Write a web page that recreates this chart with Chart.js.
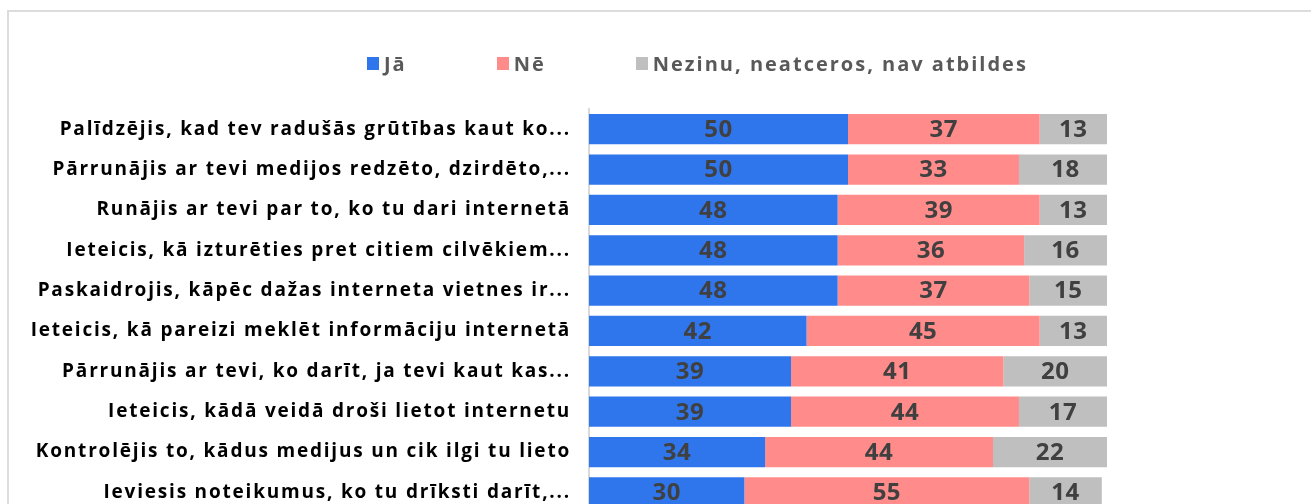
<!DOCTYPE html>
<html>
<head>
<meta charset="utf-8">
<script src="https://cdn.jsdelivr.net/npm/chart.js@4.4.1/dist/chart.umd.min.js"></script>
<style>
  html, body { margin: 0; padding: 0; overflow: hidden; background: #fff; }
  .frame {
    position: absolute; left: 7px; top: 10px; width: 1400px; height: 600px;
    border: 2px solid #dcdcdc; box-sizing: border-box;
  }
  .my-chart { position: absolute; left: 0; top: 0; }
  .legend {
    position: absolute; left: 367px; top: 50px; display: flex; gap: 90px;
    font: bold 20px "Open Sans", sans-serif; letter-spacing: 2px; color: #595959;
  }
  .legend span.item { display: flex; align-items: center; }
  .legend i { display: inline-block; width: 12px; height: 13px; margin-right: 5px; }
</style>
</head>
<body>
<div class="frame"></div>
<canvas class="my-chart" width="1311" height="542"></canvas>
<div class="legend"></div>
<script>
const categories = [
  "Palīdzējis, kad tev radušās grūtības kaut ko...",
  "Pārrunājis ar tevi medijos redzēto, dzirdēto,...",
  "Runājis ar tevi par to, ko tu dari internetā",
  "Ieteicis, kā izturēties pret citiem cilvēkiem...",
  "Paskaidrojis, kāpēc dažas interneta vietnes ir...",
  "Ieteicis, kā pareizi meklēt informāciju internetā",
  "Pārrunājis ar tevi, ko darīt, ja tevi kaut kas...",
  "Ieteicis, kādā veidā droši lietot internetu",
  "Kontrolējis to, kādus medijus un cik ilgi tu lieto",
  "Ieviesis noteikumus, ko tu drīksti darīt,...",
];
const seriesNames = ["Jā", "Nē", "Nezinu, neatceros, nav atbildes"];
const ja = [50, 50, 48, 48, 48, 42, 39, 39, 34, 30];
const ne = [37, 33, 39, 36, 37, 45, 41, 44, 44, 55];
const nezinu = [13, 18, 13, 16, 15, 13, 20, 17, 22, 14];
const colors = ["#2F76EC", "#FF8B8A", "#BFBFBF"];

// the original font is widely tracked, so space the axis labels out a bit
const tracking = {
  id: "tracking",
  beforeDraw(chart) { chart.ctx.letterSpacing = "1.8px"; },
  afterDatasetsDraw(chart) { chart.ctx.letterSpacing = "0px"; },
};

// value labels in the middle of each segment
const barLabels = {
  id: "barLabels",
  afterDatasetsDraw(chart) {
    const ctx = chart.ctx;
    ctx.save();
    ctx.letterSpacing = "0.5px";
    ctx.font = "bold 24px 'Open Sans', sans-serif";
    ctx.fillStyle = "#404040";
    ctx.textAlign = "center";
    ctx.textBaseline = "middle";
    chart.data.datasets.forEach((ds, i) => {
      chart.getDatasetMeta(i).data.forEach((bar, j) => {
        ctx.fillText(ds.data[j], (bar.x + bar.base) / 2, bar.y + 1);
      });
    });
    ctx.restore();
  },
};

const chart = new Chart(document.querySelector(".my-chart"), {
  type: "bar",
  data: {
    labels: categories,
    datasets: [ja, ne, nezinu].map((d, i) => ({
      label: seriesNames[i],
      data: d,
      backgroundColor: colors[i],
      barPercentage: 0.75,
      categoryPercentage: 1,
    })),
  },
  options: {
    indexAxis: "y",
    responsive: false,
    animation: false,
    layout: { padding: { top: 109, bottom: 10, right: 204, left: 0 } },
    plugins: {
      legend: { display: false },
      tooltip: { enabled: false },
    },
    scales: {
      x: { stacked: true, min: 0, max: 100, display: false },
      y: {
        stacked: true,
        grid: { display: false, drawTicks: false },
        border: { display: true, color: "#d9d9d9", width: 2 },
        ticks: {
          padding: 18,
          color: "#000000",
          font: { family: "'Open Sans', sans-serif", size: 19, weight: "bold" },
        },
        afterFit: (scale) => { scale.width = 589; },
      },
    },
  },
  plugins: [tracking, barLabels],
});

const legend = document.querySelector(".legend");
chart.data.datasets.forEach((ds) => {
  const item = document.createElement("span");
  item.className = "item";
  item.innerHTML = `<i style="background:${ds.backgroundColor}"></i>${ds.label}`;
  legend.appendChild(item);
});
</script>
</body>
</html>
